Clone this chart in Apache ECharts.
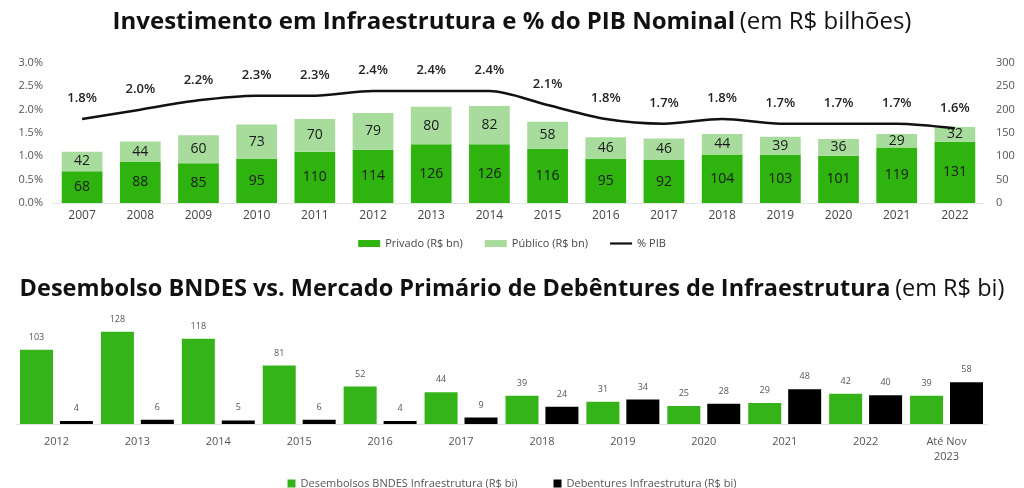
<!DOCTYPE html>
<html>
<head>
<meta charset="utf-8">
<script src="https://cdn.jsdelivr.net/npm/echarts@6/dist/echarts.min.js"></script>
<style>
  html, body { margin: 0; padding: 0; background: #fff; }
  #chart { width: 1024px; height: 488px; }
</style>
</head>
<body>
<div id="chart"></div>
<script>
// dados - investimento em infraestrutura
const anos = ["2007", "2008", "2009", "2010", "2011", "2012", "2013", "2014", "2015", "2016", "2017", "2018", "2019", "2020", "2021", "2022"]
const privado = [68, 88, 85, 95, 110, 114, 126, 126, 116, 95, 92, 104, 103, 101, 119, 131]
const publico = [42, 44, 60, 73, 70, 79, 80, 82, 58, 46, 46, 44, 39, 36, 29, 32]
const pib = [1.8, 2.0, 2.2, 2.3, 2.3, 2.4, 2.4, 2.4, 2.1, 1.8, 1.7, 1.8, 1.7, 1.7, 1.7, 1.6]

// dados - BNDES vs debêntures
const anosBndes = ["2012", "2013", "2014", "2015", "2016", "2017", "2018", "2019", "2020", "2021", "2022", "Até Nov\n2023"]
const desembolsos = [103, 128, 118, 81, 52, 44, 39, 31, 25, 29, 42, 39]
const debentures = [4, 6, 5, 6, 4, 9, 24, 34, 28, 48, 40, 58]

const fonte = "'Open Sans', 'Noto Sans', sans-serif"
const verde = "#2fb30f"
const verdeClaro = "#a7dc9c"

const chart = echarts.init(document.getElementById("chart"))

const option = {
  backgroundColor: "#fff",
  textStyle: { fontFamily: fonte },
  animation: false,
  title: [
    {
      text: "{b|Investimento em Infraestrutura e % do PIB Nominal} {n|(em R$ bilhões)}",
      left: "center",
      top: 5,
      textStyle: {
        rich: {
          b: { fontSize: 24, fontWeight: "bold", color: "#111", fontFamily: fonte },
          n: { fontSize: 24, fontWeight: "normal", color: "#111", fontFamily: fonte },
        },
      },
    },
    {
      text: "{b|Desembolso BNDES vs. Mercado Primário de Debêntures de Infraestrutura} {n|(em R$ bi)}",
      left: "center",
      top: 272,
      textStyle: {
        rich: {
          b: { fontSize: 23.5, fontWeight: "bold", color: "#111", fontFamily: fonte },
          n: { fontSize: 23.5, fontWeight: "normal", color: "#111", fontFamily: fonte },
        },
      },
    },
  ],
  legend: [
    {
      data: [
        { name: "Privado (R$ bn)", icon: "rect" },
        { name: "Público (R$ bn)", icon: "rect" },
        { name: "% PIB", icon: "path://M0,0L30,0L30,3L0,3Z" },
      ],
      top: 233,
      left: "center",
      itemWidth: 22,
      itemHeight: 7,
      itemGap: 22,
      textStyle: { fontSize: 11, color: "#444" },
    },
    {
      data: ["Desembolsos BNDES Infraestrutura (R$ bi)", "Debentures Infraestrutura (R$ bi)"],
      top: 473,
      left: "center",
      icon: "rect",
      itemWidth: 8,
      itemHeight: 8,
      itemGap: 36,
      textStyle: { fontSize: 11, color: "#555" },
    },
  ],
  grid: [
    { left: 53, right: 40, top: 63, height: 140 },
    { left: 16, right: 37, top: 323, height: 101 },
  ],
  xAxis: [
    {
      type: "category",
      gridIndex: 0,
      data: anos,
      axisTick: { show: false },
      axisLine: { lineStyle: { color: "#e5e5e5" } },
      axisLabel: { fontSize: 12, color: "#444", margin: 7 },
    },
    {
      type: "category",
      gridIndex: 1,
      data: anosBndes,
      axisTick: { show: false },
      axisLine: { lineStyle: { color: "#e0e0e0" } },
      axisLabel: { fontSize: 11, color: "#555", margin: 10, lineHeight: 15 },
    },
  ],
  yAxis: [
    {
      type: "value",
      gridIndex: 0,
      min: 0,
      max: 3,
      interval: 0.5,
      position: "left",
      splitLine: { show: false },
      axisLabel: {
        fontSize: 11,
        color: "#555",
        margin: 10,
        formatter: (v) => v.toFixed(1) + "%",
      },
    },
    {
      type: "value",
      gridIndex: 0,
      min: 0,
      max: 300,
      interval: 50,
      position: "right",
      splitLine: { show: false },
      axisLabel: { fontSize: 11, color: "#555", margin: 12 },
    },
    {
      type: "value",
      gridIndex: 1,
      min: 0,
      max: 140,
      show: false,
      splitLine: { show: false },
    },
  ],
  series: [
    {
      name: "Privado (R$ bn)",
      type: "bar",
      xAxisIndex: 0,
      yAxisIndex: 1,
      stack: "inv",
      barWidth: "70%",
      data: privado,
      itemStyle: { color: verde },
      label: { show: true, position: "inside", fontSize: 14, color: "#1a1a1a" },
    },
    {
      name: "Público (R$ bn)",
      type: "bar",
      xAxisIndex: 0,
      yAxisIndex: 1,
      stack: "inv",
      data: publico,
      itemStyle: { color: verdeClaro },
      label: { show: true, position: "inside", fontSize: 14, color: "#1a1a1a" },
    },
    {
      name: "% PIB",
      type: "line",
      xAxisIndex: 0,
      yAxisIndex: 0,
      data: pib,
      smooth: 0.3,
      symbol: "circle",
      symbolSize: 0,
      lineStyle: { color: "#111", width: 2.5 },
      itemStyle: { color: "#111" },
      label: {
        show: true,
        position: "top",
        distance: 14,
        fontSize: 13,
        fontWeight: 600,
        color: "#222",
        formatter: (p) => p.value.toFixed(1) + "%",
      },
    },
    {
      name: "Desembolsos BNDES Infraestrutura (R$ bi)",
      type: "bar",
      xAxisIndex: 1,
      yAxisIndex: 2,
      barWidth: 33,
      barGap: "21%",
      data: desembolsos,
      itemStyle: { color: "#35b41a" },
      label: { show: true, position: "top", distance: 8, fontSize: 9, color: "#555" },
    },
    {
      name: "Debentures Infraestrutura (R$ bi)",
      type: "bar",
      xAxisIndex: 1,
      yAxisIndex: 2,
      barWidth: 33,
      data: debentures,
      itemStyle: { color: "#000" },
      label: { show: true, position: "top", distance: 8, fontSize: 9, color: "#555" },
    },
  ],
}

chart.setOption(option)
window.addEventListener("resize", () => chart.resize())
</script>
</body>
</html>
